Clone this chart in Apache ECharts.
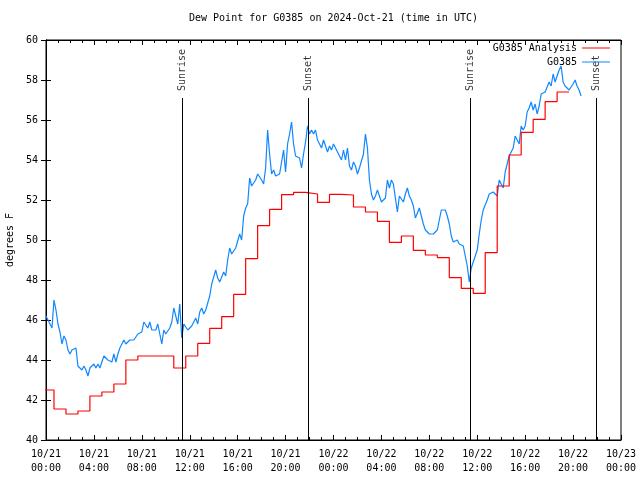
<!DOCTYPE html>
<html>
<head>
<meta charset="utf-8">
<script src="https://cdn.jsdelivr.net/npm/echarts@6/dist/echarts.min.js"></script>
<style>html,body{margin:0;padding:0;background:#fff}#c{width:640px;height:480px}</style>
</head>
<body>
<div id="c"></div>
<script>
// x values are hours since 2024-10-21 00:00 UTC
const xTickLabels = ['10/21\n00:00','10/21\n04:00','10/21\n08:00','10/21\n12:00','10/21\n16:00','10/21\n20:00',
  '10/22\n00:00','10/22\n04:00','10/22\n08:00','10/22\n12:00','10/22\n16:00','10/22\n20:00','10/23\n00:00'];
const yTicks = [40,42,44,46,48,50,52,54,56,58,60];

// G0385 Analysis: hourly values (hour 0..43), each held from ~20 min before the hour
const redHours = [0,1,2,3,4,5,6,7,8,9,10,11,12,13,14,15,16,17,18,19,20,21,22,23,24,25,26,27,28,29,30,31,32,33,34,35,36,37,38,39,40,41,42,43];
const redValues = [42.5,41.55,41.3,41.45,42.2,42.4,42.8,44.0,44.2,44.2,44.2,43.6,44.2,44.83,45.58,46.17,47.28,49.07,50.72,51.53,
  52.27,52.38,52.3,51.88,52.28,52.25,51.65,51.4,50.93,49.88,50.2,49.48,49.25,49.12,48.12,47.58,47.33,49.37,52.7,54.25,
  55.38,56.03,56.92,57.4];
const redShift = -20/60; // hours

// G0385 observations every 10 minutes from 00:00
const blueStepMin = 10;
const blueValues = [
  46.2,46.0,46.1,45.6,47.0,46.5,45.8,45.4,44.8,45.2,
  45.0,44.5,44.3,44.5,44.5,44.6,43.7,43.6,43.5,43.7,
  43.5,43.2,43.6,43.5,43.8,43.6,43.8,43.6,43.7,44.2,
  44.3,44.0,44.1,43.9,44.3,43.9,44.3,44.6,44.7,45.0,
  44.8,44.8,45.0,44.9,45.0,
  45.1,45.3,45.35,45.4,45.9,46.0,45.6,45.9,45.5,45.4,
  45.5,45.8,45.9,44.8,45.5,45.3,45.4,45.6,45.9,46.6,
  46.2,45.8,46.8,45.1,45.8,45.9,45.5,45.5,45.7,45.8,
  46.1,45.8,46.4,46.6,46.3,46.5,46.4,47.2,47.8,47.9,
  48.5,48.1,47.9,48.0,48.4,
  48.2,49.0,49.6,49.3,49.2,49.6,49.7,50.3,50.0,51.2,
  51.6,51.8,53.1,52.7,52.8,53.0,53.3,53.3,53.0,52.8,
  53.6,55.5,54.3,53.3,53.5,53.2,53.2,53.3,53.2,54.5,
  53.4,54.8,55.3,55.9,54.8,54.2,54.3,54.1,53.6,54.3,
  54.9,55.7,55.3,55.5,55.3,55.5,
  55.0,55.0,54.6,55.0,55.1,54.4,54.7,54.5,54.8,54.6,
  54.4,54.3,54.0,54.5,54.0,54.6,53.7,53.5,53.9,53.7,
  53.3,53.6,53.7,54.3,55.3,54.6,53.0,52.3,52.0,52.2,
  52.5,52.4,51.9,52.0,52.1,53.0,52.6,53.0,52.8,52.1,
  51.4,52.2,52.1,51.9,
  52.3,52.6,52.2,52.0,51.7,51.1,51.0,51.6,51.2,50.8,
  50.5,50.4,50.3,50.2,50.3,50.3,50.5,51.0,51.5,51.6,
  51.5,51.2,50.8,50.2,49.9,49.9,50.0,49.8,49.8,49.7,
  49.2,48.7,47.9,48.6,48.9,48.9,49.5,50.3,51.0,51.5,
  51.6,52.0,52.3,52.3,52.4,
  52.5,52.2,53.0,52.9,52.6,53.4,53.8,54.2,54.4,54.6,
  55.2,55.1,54.8,55.7,55.5,55.7,56.4,56.6,56.9,56.5,
  56.8,56.3,56.7,57.3,57.2,57.4,57.5,57.9,57.7,58.3,
  57.9,58.0,58.5,58.7,57.9,57.7,57.6,57.5,57.6,57.8,
  58.0,57.7,57.5,57.2
];

const sunTimes = [11.37, 21.87, 35.41, 45.92];
const sunNames = ['Sunrise','Sunset','Sunrise','Sunset'];
const sunLineTop = 57.1;

const FONT = 'DejaVu Sans Mono';
const redData = redHours.map((h,i)=>[h+redShift, redValues[i]]);
redData.push([redHours[redHours.length-1]+1+redShift, redValues[redValues.length-1]]);
const blueData = blueValues.map((v,i)=>[i*blueStepMin/60, v]);

const chart = echarts.init(document.getElementById('c'), null, {renderer:'canvas'});
const txt = {fontFamily: FONT, fontSize: 10, color: '#000'};
const xBase = {type:'value', min:0, max:48, interval:4,
  axisLine:{show:true, lineStyle:{color:'#000', width:1}},
  splitLine:{show:false}};
const yBase = {type:'value', min:40, max:60, interval:2,
  axisLine:{show:true, lineStyle:{color:'#000', width:1}},
  splitLine:{show:false}};

chart.setOption({
  animation:false,
  backgroundColor:'#fff',
  title:{text:'Dew Point for G0385 on 2024-Oct-21 (time in UTC)', left:189, top:13, padding:0,
    textStyle:{fontFamily:FONT, fontSize:10, fontWeight:'normal', color:'#000'}},
  grid:{left:46, right:19, top:40, bottom:40, containLabel:false, outerBoundsMode:'none',
    show:true, borderColor:'#000', borderWidth:1, backgroundColor:'transparent'},
  legend:[
    {data:['G0385 Analysis'], right:30, top:43, padding:0, itemGap:0, align:'right', icon:'rect', itemWidth:28, itemHeight:1, textStyle:txt, selectedMode:false},
    {data:['G0385'], right:30, top:57, padding:0, itemGap:0, align:'right', icon:'rect', itemWidth:28, itemHeight:1, textStyle:txt, selectedMode:false}
  ],
  xAxis:[
    Object.assign({}, xBase, {position:'bottom',
      axisTick:{show:true, inside:true, length:5, lineStyle:{color:'#000'}},
      minorTick:{show:true, splitNumber:4, length:3, lineStyle:{color:'#000'}},
      axisLabel:{show:true, margin:7, lineHeight:14, fontFamily:FONT, fontSize:10, color:'#000',
        formatter:(v)=>xTickLabels[Math.round(v/4)]}}),
    Object.assign({}, xBase, {position:'top',
      axisTick:{show:true, inside:true, length:5, lineStyle:{color:'#000'}},
      minorTick:{show:true, splitNumber:4, length:3, lineStyle:{color:'#000'}},
      axisLabel:{show:false}})
  ],
  yAxis:[
    Object.assign({}, yBase, {position:'left', name:'degrees F', nameLocation:'middle', nameGap:31,
      nameTextStyle:{fontFamily:FONT, fontSize:10, color:'#000'},
      axisTick:{show:true, inside:true, length:5, lineStyle:{color:'#000'}},
      axisLabel:{show:true, margin:8, fontFamily:FONT, fontSize:10, color:'#000',
        formatter:(v)=> yTicks.indexOf(v)>=0 ? String(v) : ''}}),
    Object.assign({}, yBase, {position:'right',
      axisTick:{show:true, inside:true, length:5, lineStyle:{color:'#000'}},
      axisLabel:{show:false}})
  ],
  series:[
    {name:'G0385 Analysis', type:'line', step:'end', data:redData, symbol:'none', showSymbol:false,
      itemStyle:{color:'#ff0000'}, lineStyle:{color:'#ff0000', width:1.2}, z:3},
    {name:'G0385', type:'line', data:blueData, symbol:'none', showSymbol:false,
      itemStyle:{color:'#0f87ff'}, lineStyle:{color:'#0f87ff', width:1.2}, z:2,
      markLine:{silent:true, symbol:['none','none'], label:{show:false},
        lineStyle:{color:'#000', width:1, type:'solid'},
        data: sunTimes.map(t=>[{coord:[t,40]},{coord:[t,sunLineTop]}])}},
    {name:'sun', type:'scatter', symbolSize:0, silent:true,
      data: sunTimes.map((t,i)=>({name:sunNames[i], value:[t,sunLineTop]})),
      label:{show:true, formatter:'{b}', position:'top', distance:7, rotate:90, align:'left', verticalAlign:'middle',
        fontFamily:FONT, fontSize:10, color:'#000'}}
  ]
});
</script>
</body>
</html>
